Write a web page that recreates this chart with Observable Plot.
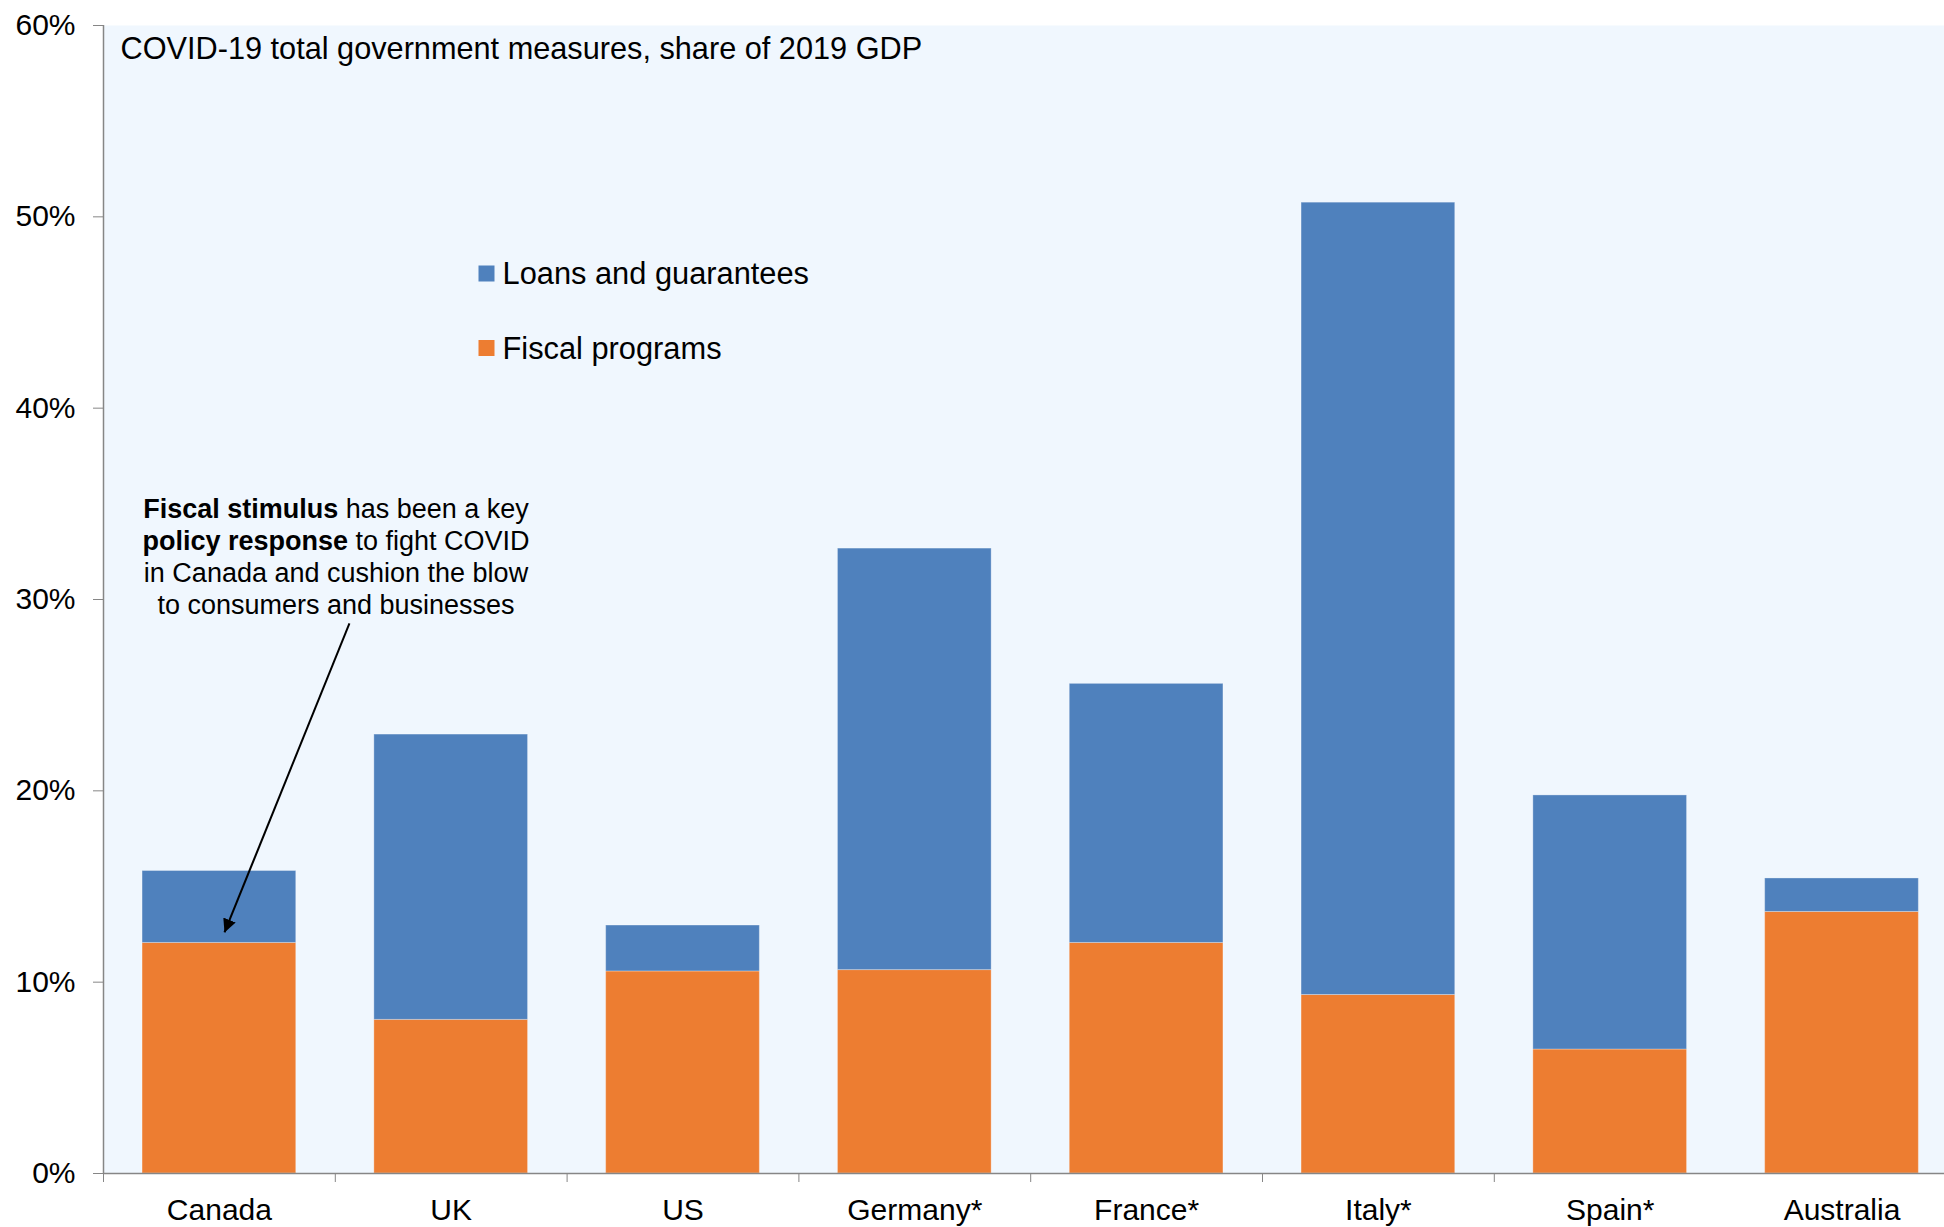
<!DOCTYPE html>
<html><head><meta charset="utf-8">
<script src="https://cdn.jsdelivr.net/npm/d3@7"></script>
<script src="https://cdn.jsdelivr.net/npm/@observablehq/plot@0.6"></script>
<style>
html,body{margin:0;padding:0;background:#fff;overflow:hidden;}
#chart{width:1944px;height:1227px;overflow:hidden;}
</style></head><body><div id="chart"></div>
<script>
// ---- data ----
const categories = ["Canada", "UK", "US", "Germany*", "France*", "Italy*", "Spain*", "Australia"];
const fiscalPrograms = [12.05, 8.03, 10.56, 10.63, 12.05, 9.33, 6.48, 13.67];
const loansAndGuarantees = [3.76, 14.91, 2.40, 22.03, 13.54, 41.41, 13.28, 1.75];
const yTicks = [0, 10, 20, 30, 40, 50, 60];
const seriesNames = ["Loans and guarantees", "Fiscal programs"];
const chartTitle = "COVID-19 total government measures, share of 2019 GDP";
const annotationLines = [
  "Fiscal stimulus has been a key",
  "policy response to fight COVID",
  "in Canada and cushion the blow",
  "to consumers and businesses"
];
const boldPhrases = ["Fiscal stimulus", "policy response"];

// ---- styles / layout ----
const seriesColors = ["#4F81BD", "#ED7D31"];
const W = 1944, H = 1227, ML = 103, MT = 25, MB = 54;
const STEP = 231.8, HALF = 0.3315;
const annotationAnchor = {x: 0.503, y: 35.47};
const arrowLink = {x1: 0.561, y1: 28.75, x2: 0.022, y2: 12.6};
const FONT = "'Liberation Sans', Arial, sans-serif";

const rows = categories.flatMap((c, i) => [
  {i, country: c, series: "Fiscal programs", y1: 0, y2: fiscalPrograms[i]},
  {i, country: c, series: "Loans and guarantees", y1: fiscalPrograms[i], y2: fiscalPrograms[i] + loansAndGuarantees[i]}
]);

const legendMarks = seriesNames.flatMap((name, k) => [
  Plot.dot([name], {frameAnchor: "top-left", dx: 383, dy: 248 + k * 74.5, symbol: "square", r: 9.03, fill: seriesColors[k], stroke: "none"}),
  Plot.text([name], {text: d => d, frameAnchor: "top-left", dx: 399, dy: 248.4 + k * 75, textAnchor: "start", lineAnchor: "middle", fontSize: 30.8, fill: "#000"})
]);

const svg = Plot.plot({
  width: W, height: H,
  marginLeft: ML, marginRight: 0, marginTop: MT, marginBottom: MB,
  style: {fontFamily: FONT, fontSize: "30px", color: "#000", background: "#fff"},
  x: {type: "linear", domain: [-0.5, 7.5], range: [ML, ML + 8 * STEP]},
  y: {domain: [0, 60], range: [H - MB, MT]},
  color: {domain: seriesNames, range: seriesColors},
  marks: [
    Plot.frame({fill: "#F0F7FE", stroke: "none"}),
    Plot.rectY(rows, {x1: d => d.i - HALF, x2: d => d.i + HALF, y1: "y1", y2: "y2", fill: "series", stroke: "#ffffff", strokeOpacity: 0.3, strokeWidth: 1}),
    Plot.ruleX([-0.5], {stroke: "#868686", strokeWidth: 1.5}),
    Plot.ruleY([0], {stroke: "#868686", strokeWidth: 1.5}),
    Plot.axisY({ticks: yTicks, tickFormat: d => d + "%", tickSize: 10, tickPadding: 18, stroke: "#868686", fill: "#000", label: null, fontSize: 30}),
    Plot.axisX({ticks: categories.map((c, i) => i), tickFormat: i => categories[i], tickSize: 0, tickPadding: 25, fill: "#000", label: null, fontSize: 30}),
    Plot.axisX({ticks: categories.slice(0, 7).map((c, i) => i - 0.5), tickFormat: () => "", tickSize: 9, stroke: "#868686", label: null}),
    Plot.text([chartTitle], {text: d => d, frameAnchor: "top-left", dx: 17, dy: 12, textAnchor: "start", lineAnchor: "top", fontSize: 30.7, fill: "#000"}),
    ...legendMarks,
    Plot.text([annotationLines.join("\n")], {text: d => d, x: () => annotationAnchor.x, y: () => annotationAnchor.y, textAnchor: "middle", lineAnchor: "top", lineHeight: 1.19, fontSize: 27, fill: "#000"}),
    Plot.link([arrowLink], {x1: "x1", y1: "y1", x2: "x2", y2: "y2", stroke: "#000", strokeWidth: 2, markerEnd: "arrow"})
  ]
});

// bold phrases in the annotation
d3.select(svg).selectAll("tspan").each(function() {
  const t = this.textContent;
  for (const b of boldPhrases) {
    if (t.startsWith(b)) {
      this.textContent = "";
      d3.select(this).append("tspan").attr("font-weight", "bold").text(b);
      this.appendChild(document.createTextNode(t.slice(b.length)));
    }
  }
});
// filled arrow head
d3.select(svg).selectAll("marker")
  .attr("viewBox", "-10 -5 10 10")
  .select("path").attr("d", "M-10,-5L0,0L-10,5Z").attr("fill", "#000").attr("stroke", "none");

document.getElementById("chart").appendChild(svg);
</script></body></html>
